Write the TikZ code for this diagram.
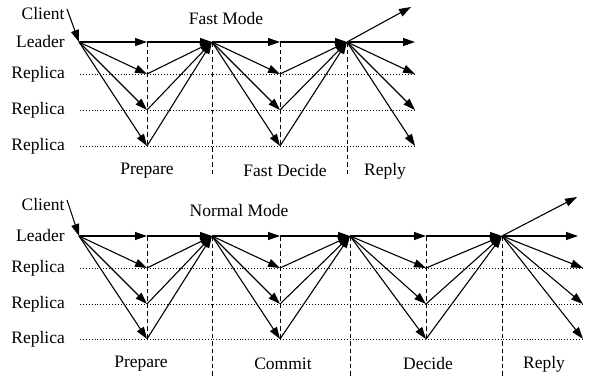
\documentclass[tikz,border=0pt]{standalone}
\usepackage{fontspec}
\setmainfont{Liberation Serif}
\usetikzlibrary{arrows.meta}

\begin{document}
\begin{tikzpicture}[
    x=1pt, y=-1pt,
    >={Triangle[length=12pt, width=8pt]},
    font={\fontsize{17.5}{20}\selectfont},
    msg/.style={->, line width=1.1pt},
    phase/.style={dash pattern=on 4.5pt off 3pt, line width=1pt},
    lane/.style={dotted, line width=0.9pt},
    rowlabel/.style={anchor=east, inner sep=0pt}
]
\useasboundingbox (0,0) rectangle (592,376);

% ===================== Fast Mode =====================
\node (fmode)  at (226,19) {Fast Mode};
\node (fclient) at (43,14) {Client};
\node[rowlabel] (fleader) at (65,42) {Leader};

% Zeitpunkte auf der Leader-Linie
\coordinate (fcli) at (67,9);
\coordinate (f0)   at (79,42);
\coordinate (f1)   at (147,42);
\coordinate (f2)   at (212,42);
\coordinate (f3)   at (280,42);
\coordinate (f4)   at (347,42);
\coordinate (fout) at (415,42);
\coordinate (fup)  at (411,7);

% Replica-Zeilen mit ihren Punkten
\foreach \r/\y in {1/74, 2/110, 3/146} {
    \node[rowlabel] (frep\r) at (65,\y) {Replica};
    \coordinate (fa\r) at (147,\y);
    \coordinate (fb\r) at (280,\y);
    \coordinate (fc\r) at (415,\y);
    \draw[lane] (80,\y) -- (fc\r);
}

% Phasengrenzen
\draw[phase] (f1) -- (fa3);
\draw[phase] (f2) -- (212,177);
\draw[phase] (f3) -- (fb3);
\draw[phase] (f4) -- (347,177);

% Nachrichten
\draw[msg] (fcli) -- (f0);
\draw[msg] (f0) -- (f1);
\draw[msg] (f1) -- (f2);
\draw[msg] (f2) -- (f3);
\draw[msg] (f3) -- (f4);
\draw[msg] (f4) -- (fout);
\draw[msg] (f4) -- (fup);
\foreach \r in {1,2,3} {
    \draw[msg] (f0) -- (fa\r);
    \draw[msg] (fa\r) -- (f2);
    \draw[msg] (f2) -- (fb\r);
    \draw[msg] (fb\r) -- (f4);
    \draw[msg] (f4) -- (fc\r);
}

\node (fprep)  at (147,171) {Prepare};
\node (fdec)   at (285,171) {Fast Decide};
\node (freply) at (385,171) {Reply};

% ===================== Normal Mode =====================
\node (nmode)  at (239,211) {Normal Mode};
\node (nclient) at (43,205) {Client};
\node[rowlabel] (nleader) at (65,236) {Leader};

\coordinate (ncli) at (67,200);
\coordinate (n0)   at (79,236);
\coordinate (n1)   at (147,236);
\coordinate (n2)   at (212,236);
\coordinate (n3)   at (280,236);
\coordinate (n4)   at (350,236);
\coordinate (n5)   at (426,236);
\coordinate (n6)   at (502,236);
\coordinate (nout) at (578,236);
\coordinate (nup)  at (577,197);

\foreach \r/\y in {1/268, 2/304, 3/339} {
    \node[rowlabel] (nrep\r) at (65,\y) {Replica};
    \coordinate (na\r) at (147,\y);
    \coordinate (nb\r) at (280,\y);
    \coordinate (nc\r) at (426,\y);
    \coordinate (nd\r) at (583,\y);
    \draw[lane] (80,\y) -- (nd\r);
}

\draw[phase] (n1) -- (na3);
\draw[phase] (n2) -- (212,376);
\draw[phase] (n3) -- (nb3);
\draw[phase] (n4) -- (350,376);
\draw[phase] (n5) -- (nc3);
\draw[phase] (n6) -- (502,376);

\draw[msg] (ncli) -- (n0);
\draw[msg] (n0) -- (n1);
\draw[msg] (n1) -- (n2);
\draw[msg] (n2) -- (n3);
\draw[msg] (n3) -- (n4);
\draw[msg] (n4) -- (n5);
\draw[msg] (n5) -- (n6);
\draw[msg] (n6) -- (nout);
\draw[msg] (n6) -- (nup);
\foreach \r in {1,2,3} {
    \draw[msg] (n0) -- (na\r);
    \draw[msg] (na\r) -- (n2);
    \draw[msg] (n2) -- (nb\r);
    \draw[msg] (nb\r) -- (n4);
    \draw[msg] (n4) -- (nc\r);
    \draw[msg] (nc\r) -- (n6);
    \draw[msg] (n6) -- (nd\r);
}

\node (nprep)  at (141,364) {Prepare};
\node (ncom)   at (283,364) {Commit};
\node (ndec)   at (428,364) {Decide};
\node (nreply) at (544,364) {Reply};

\end{tikzpicture}
\end{document}
